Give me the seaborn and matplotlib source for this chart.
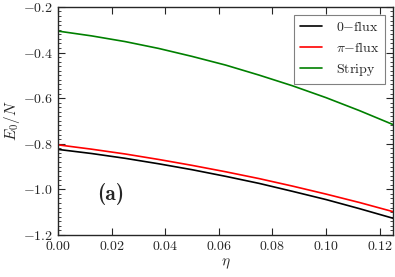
import numpy as np
import pandas as pd
import matplotlib
matplotlib.use("Agg")
import matplotlib.pyplot as plt
import seaborn as sns
from matplotlib.ticker import MultipleLocator

eta = [0.0, 0.0125, 0.025, 0.0375, 0.05, 0.0625, 0.075, 0.0875, 0.1, 0.1125, 0.125]
zero_flux = [-0.825, -0.843, -0.864, -0.888, -0.914, -0.943, -0.974, -1.009, -1.045, -1.085, -1.127]
pi_flux = [-0.805, -0.824, -0.845, -0.869, -0.895, -0.923, -0.953, -0.986, -1.021, -1.058, -1.098]
stripy = [-0.306, -0.327, -0.352, -0.382, -0.417, -0.455, -0.499, -0.546, -0.598, -0.655, -0.716]
labels = [r'$\mathrm{0{-}flux}$', r'$\pi\mathrm{{-}flux}$', r'$\mathrm{Stripy}$']
colors = ['black', 'red', 'green']

sns.set_style('ticks')
plt.rcParams['font.family'] = 'serif'
plt.rcParams['font.serif'] = ['cmr10', 'DejaVu Serif']
plt.rcParams['mathtext.fontset'] = 'cm'
plt.rcParams['axes.formatter.use_mathtext'] = True
plt.rcParams['axes.unicode_minus'] = True

rows = []
for lab, vals in zip(labels, [zero_flux, pi_flux, stripy]):
    for x, y in zip(eta, vals):
        rows.append({'eta': x, 'E': y, 'series': lab})
df = pd.DataFrame(rows)

fig = plt.figure(figsize=(3.95, 2.77), dpi=100)
ax = fig.add_axes([0.147, 0.152, 0.848, 0.823])
sns.lineplot(data=df, x='eta', y='E', hue='series', hue_order=labels,
             palette=dict(zip(labels, colors)), linewidth=1.2, ax=ax)

ax.set_xlim(0, 0.125)
ax.set_ylim(-1.2, -0.2)
ax.xaxis.set_major_locator(MultipleLocator(0.02))
ax.yaxis.set_major_locator(MultipleLocator(0.2))
ax.yaxis.set_minor_locator(MultipleLocator(0.02))
ax.tick_params(which='both', direction='in', top=True, right=True, labelsize=10)
ax.tick_params(which='major', length=5, width=0.8)
ax.tick_params(which='minor', length=2.5, width=0.6)
ax.xaxis.set_major_formatter(matplotlib.ticker.FuncFormatter(lambda v, p: r'$%.2f$' % v))
ax.yaxis.set_major_formatter(matplotlib.ticker.FuncFormatter(lambda v, p: r'$%.1f$' % v))
for s in ax.spines.values():
    s.set_linewidth(1.0)

ax.set_xlabel(r'$\eta$', fontsize=11, labelpad=3)
ax.set_ylabel(r'$E_0/N$', fontsize=11, labelpad=1)

ax.text(0.118, 0.18, '(a)', transform=ax.transAxes, fontsize=15.5,
        family='cmb10', va='center', ha='left')

leg = ax.legend(loc='upper right', fontsize=10, fancybox=False, framealpha=1,
                edgecolor='gray', borderaxespad=0.55, handlelength=1.6,
                handletextpad=1.0, title=None)
leg.get_frame().set_linewidth(0.8)

fig.savefig('out.png', dpi=100)
